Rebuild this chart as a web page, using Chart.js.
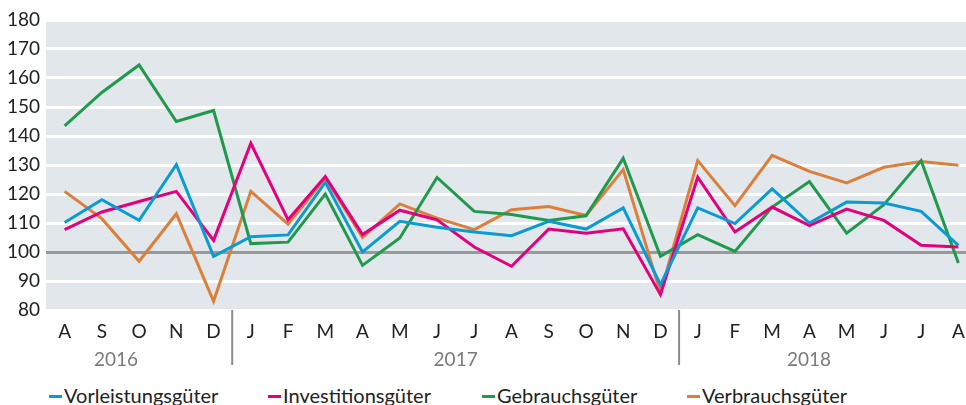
<!DOCTYPE html>
<html>
<head>
<meta charset="utf-8">
<script src="https://cdn.jsdelivr.net/npm/chart.js@4.4.1/dist/chart.umd.min.js"></script>
<style>
  body { margin: 0; width: 966px; height: 405px; overflow: hidden; background: #fff; font-family: Lato, sans-serif; }
  #wrap { position: absolute; left: 0; top: 0; width: 977px; height: 372px; }
  .leg { position: absolute; top: 383px; font-size: 20px; color: #222; line-height: 24px; white-space: nowrap; }
  .leg span { display: inline-block; width: 13px; height: 3px; vertical-align: middle; margin-right: 2px; position: relative; top: -1px; }
</style>
</head>
<body>
<div id="wrap"><canvas id="chart"></canvas></div>
<div class="leg" style="left:49px"><span style="background:#0a9bd5"></span>Vorleistungsgüter</div>
<div class="leg" style="left:268px"><span style="background:#e4007c"></span>Investitionsgüter</div>
<div class="leg" style="left:482px"><span style="background:#1f9a4c"></span>Gebrauchsgüter</div>
<div class="leg" style="left:687px"><span style="background:#dc7f3b"></span>Verbrauchsgüter</div>
<script>
// Monate Aug 2016 - Aug 2018
const months = ['A','S','O','N','D','J','F','M','A','M','J','J','A','S','O','N','D','J','F','M','A','M','J','J','A'];
const years = ['2016', '2017', '2018'];
const yearStart = [0, 5, 17]; // index des ersten Monats im Jahr

const vorleistung = [110.2, 118, 110.9, 130.1, 98.5, 105.3, 105.9, 124, 100, 110.6, 108.5, 106.9, 105.6, 110.6, 107.9, 115.2, 88.7, 115.2, 109.8, 121.8, 110, 117.2, 116.9, 114, 102.3];
const investition = [107.7, 113.8, 117.4, 120.9, 104, 137.5, 111.1, 126, 106, 114.4, 111.1, 101.7, 95.1, 107.9, 106.5, 108, 85.3, 125.8, 106.9, 115.5, 109.1, 114.8, 110.9, 102.3, 101.7];
const gebrauch = [143.5, 155, 164.5, 145, 148.8, 102.9, 103.4, 120, 95.4, 104.8, 125.7, 114, 112.9, 110.9, 112.5, 132.3, 98.5, 106, 100.2, 115.5, 124.3, 106.5, 116.3, 131.5, 96.2];
const verbrauch = [120.9, 111.5, 96.8, 113.2, 83, 120.9, 109.6, 125.5, 105, 116.6, 111.7, 107.7, 114.6, 115.7, 112.6, 128.4, 85.9, 131.5, 116, 133.3, 127.8, 123.8, 129.2, 131.2, 129.9];

// grauer Hintergrund der Zeichenfläche
const plotBg = {
  id: 'plotBg',
  beforeDraw(chart) {
    const a = chart.chartArea, ctx = chart.ctx;
    ctx.save();
    ctx.fillStyle = '#e2e7eb';
    ctx.fillRect(a.left, a.top, a.right - a.left, a.bottom - a.top);
    ctx.restore();
  }
};

// Jahrestrenner und Jahreszahlen unter der Achse
const yearAxis = {
  id: 'yearAxis',
  afterDraw(chart) {
    const x = chart.scales.x, a = chart.chartArea, ctx = chart.ctx;
    const seps = yearStart.slice(1).map(i => (x.getPixelForValue(i - 1) + x.getPixelForValue(i)) / 2);
    ctx.save();
    ctx.strokeStyle = '#8c8c8c';
    ctx.lineWidth = 2;
    seps.forEach(px => {
      ctx.beginPath();
      ctx.moveTo(px, a.bottom);
      ctx.lineTo(px, a.bottom + 55);
      ctx.stroke();
    });
    ctx.fillStyle = '#7a7a7a';
    ctx.font = '19px Lato, sans-serif';
    ctx.textAlign = 'center';
    ctx.textBaseline = 'middle';
    const centres = [seps[0] / 2, (seps[0] + seps[1]) / 2, seps[1] + 130];
    years.forEach((y, i) => ctx.fillText(y, centres[i], a.bottom + 50));
    ctx.restore();
  }
};

const ctx = document.getElementById('chart').getContext('2d');
new Chart(ctx, {
  type: 'line',
  data: {
    labels: months,
    datasets: [
      { label: 'Vorleistungsgüter', data: vorleistung, borderColor: '#0a9bd5' },
      { label: 'Investitionsgüter', data: investition, borderColor: '#e4007c' },
      { label: 'Gebrauchsgüter', data: gebrauch, borderColor: '#1f9a4c' },
      { label: 'Verbrauchsgüter', data: verbrauch, borderColor: '#dc7f3b' }
    ]
  },
  options: {
    responsive: true,
    maintainAspectRatio: false,
    animation: false,
    layout: { padding: { top: 20, right: 0, left: 0, bottom: 0 } },
    elements: {
      line: { borderWidth: 3, tension: 0, borderJoinStyle: 'miter' },
      point: { radius: 0 }
    },
    plugins: {
      legend: { display: false },
      tooltip: { enabled: false }
    },
    scales: {
      x: {
        offset: true,
        grid: { display: false },
        border: { display: false },
        ticks: { color: '#222', font: { family: 'Lato', size: 19 }, padding: 2, maxRotation: 0, autoSkip: false },
        afterFit(scale) { scale.height = 62; }
      },
      y: {
        min: 80,
        max: 180,
        grid: {
          color: c => c.tick && c.tick.value === 100 ? '#999' : '#fff',
          lineWidth: 3,
          drawTicks: false
        },
        border: { display: false },
        ticks: { stepSize: 10, color: '#222', font: { family: 'Lato', size: 19 }, padding: 6 },
        afterFit(scale) { scale.width = 46; }
      }
    }
  },
  plugins: [plotBg, yearAxis]
});
</script>
</body>
</html>
